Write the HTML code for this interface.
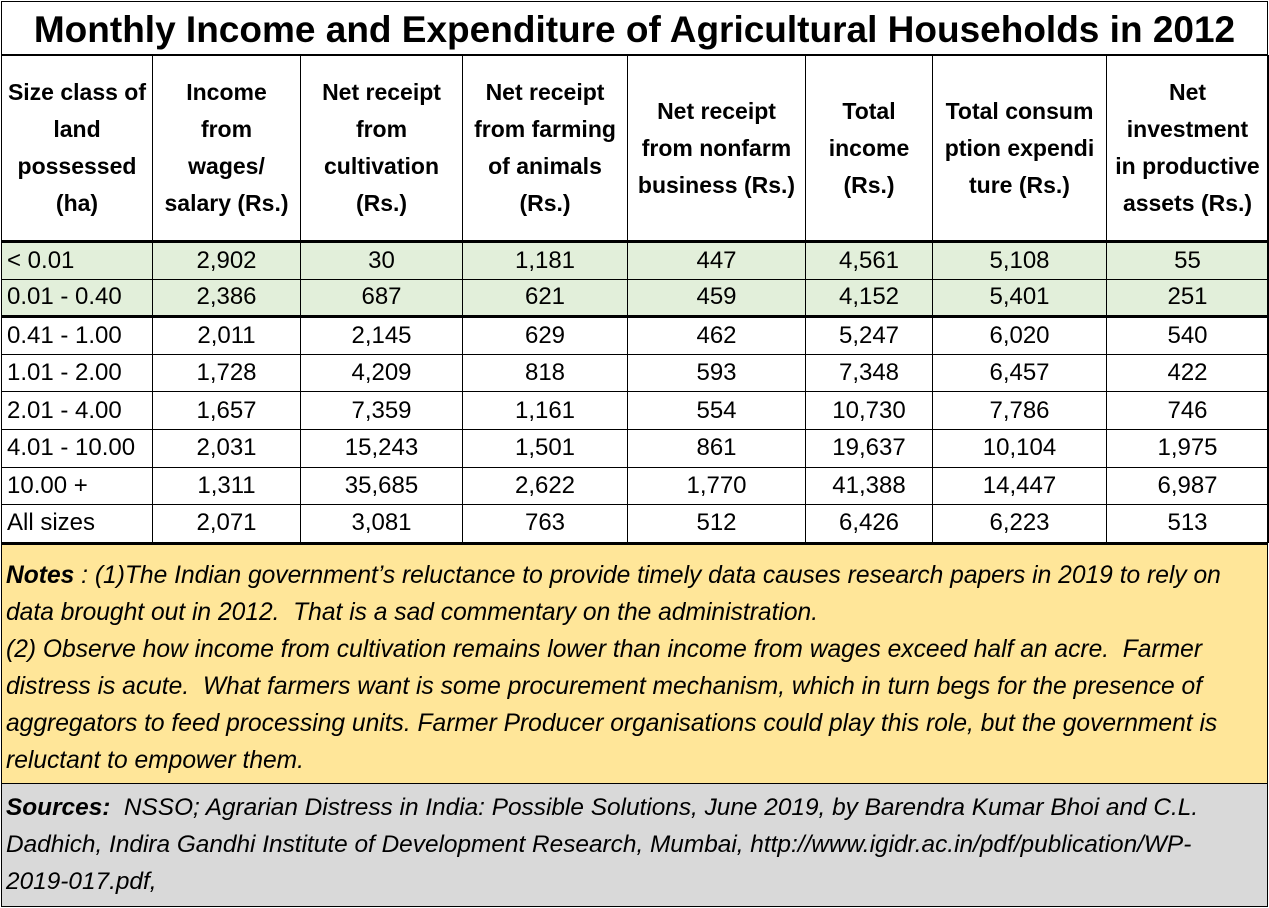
<!DOCTYPE html>
<html><head><meta charset="utf-8"><style>
*{margin:0;padding:0;box-sizing:border-box}
body{width:1269px;height:908px;background:#fff;font-family:"Liberation Sans",Arial,sans-serif;color:#000;position:relative;overflow:hidden}
#frame{position:absolute;left:1px;top:1px;width:1267px;height:906px;border:1px solid #000}
.t{position:absolute;left:1px;top:1px;width:1267px;height:54px;text-align:center;font-weight:bold;font-size:37px;line-height:58px;border-bottom:1px solid #000;white-space:nowrap}
table{position:absolute;left:1px;top:55px;border-collapse:collapse;table-layout:fixed;width:1267px}
td{border:1px solid #000;text-align:center;font-size:24px;padding:0;white-space:nowrap;overflow:hidden}
td:first-child{text-align:left;padding-left:5px}
tr.h td{height:186px;font-weight:bold;font-size:23px;line-height:37px;text-align:center;padding:0}
tr.g td{background:#e2efda}
tr.r td{height:37.6px}
.thick td{border-top:3px solid #000}
.notes{position:absolute;left:1px;top:542px;width:1267px;height:242px;background:#ffe699;border-top:3px solid #000;border-bottom:1px solid #000;font-style:italic;font-size:24.6px;line-height:37px;padding:12px 0 0 5px;white-space:nowrap}
.src{position:absolute;left:1px;top:784px;width:1267px;height:123px;background:#d9d9d9;font-style:italic;font-size:24.4px;line-height:37px;padding:5px 0 0 5px;white-space:nowrap}
</style></head><body>
<div class="t">Monthly Income and Expenditure of Agricultural Households in 2012</div>
<table>
<colgroup><col style="width:151px"><col style="width:148px"><col style="width:162px"><col style="width:165px"><col style="width:178px"><col style="width:127px"><col style="width:174px"><col style="width:162px"></colgroup>
<tr class="h"><td>Size class of<br>land<br>possessed<br>(ha)</td><td>Income<br>from<br>wages/<br>salary (Rs.)</td><td>Net receipt<br>from<br>cultivation<br>(Rs.)</td><td>Net receipt<br>from farming<br>of animals<br>(Rs.)</td><td>Net receipt<br>from nonfarm<br>business (Rs.)</td><td>Total<br>income<br>(Rs.)</td><td>Total consum<br>ption expendi<br>ture (Rs.)</td><td>Net<br>investment<br>in productive<br>assets (Rs.)</td></tr>
<tr class="r g thick"><td>&lt; 0.01</td><td>2,902</td><td>30</td><td>1,181</td><td>447</td><td>4,561</td><td>5,108</td><td>55</td></tr>
<tr class="r g"><td>0.01 - 0.40</td><td>2,386</td><td>687</td><td>621</td><td>459</td><td>4,152</td><td>5,401</td><td>251</td></tr>
<tr class="r thick"><td>0.41 - 1.00</td><td>2,011</td><td>2,145</td><td>629</td><td>462</td><td>5,247</td><td>6,020</td><td>540</td></tr>
<tr class="r"><td>1.01 - 2.00</td><td>1,728</td><td>4,209</td><td>818</td><td>593</td><td>7,348</td><td>6,457</td><td>422</td></tr>
<tr class="r"><td>2.01 - 4.00</td><td>1,657</td><td>7,359</td><td>1,161</td><td>554</td><td>10,730</td><td>7,786</td><td>746</td></tr>
<tr class="r"><td>4.01 - 10.00</td><td>2,031</td><td>15,243</td><td>1,501</td><td>861</td><td>19,637</td><td>10,104</td><td>1,975</td></tr>
<tr class="r"><td>10.00 +</td><td>1,311</td><td>35,685</td><td>2,622</td><td>1,770</td><td>41,388</td><td>14,447</td><td>6,987</td></tr>
<tr class="r"><td>All sizes</td><td>2,071</td><td>3,081</td><td>763</td><td>512</td><td>6,426</td><td>6,223</td><td>513</td></tr>
</table>
<div class="notes"><b>Notes</b> : (1)The Indian government’s reluctance to provide timely data causes research papers in 2019 to rely on<br>data brought out in 2012.&nbsp; That is a sad commentary on the administration.<br>(2) Observe how income from cultivation remains lower than income from wages exceed half an acre.&nbsp; Farmer<br>distress is acute.&nbsp; What farmers want is some procurement mechanism, which in turn begs for the presence of<br>aggregators to feed processing units. Farmer Producer organisations could play this role, but the government is<br>reluctant to empower them.</div>
<div class="src"><b>Sources:</b>&nbsp; NSSO; Agrarian Distress in India: Possible Solutions, June 2019, by Barendra Kumar Bhoi and C.L.<br>Dadhich, Indira Gandhi Institute of Development Research, Mumbai, http://www.igidr.ac.in/pdf/publication/WP-<br>2019-017.pdf,</div>
<div id="frame"></div>
</body></html>
